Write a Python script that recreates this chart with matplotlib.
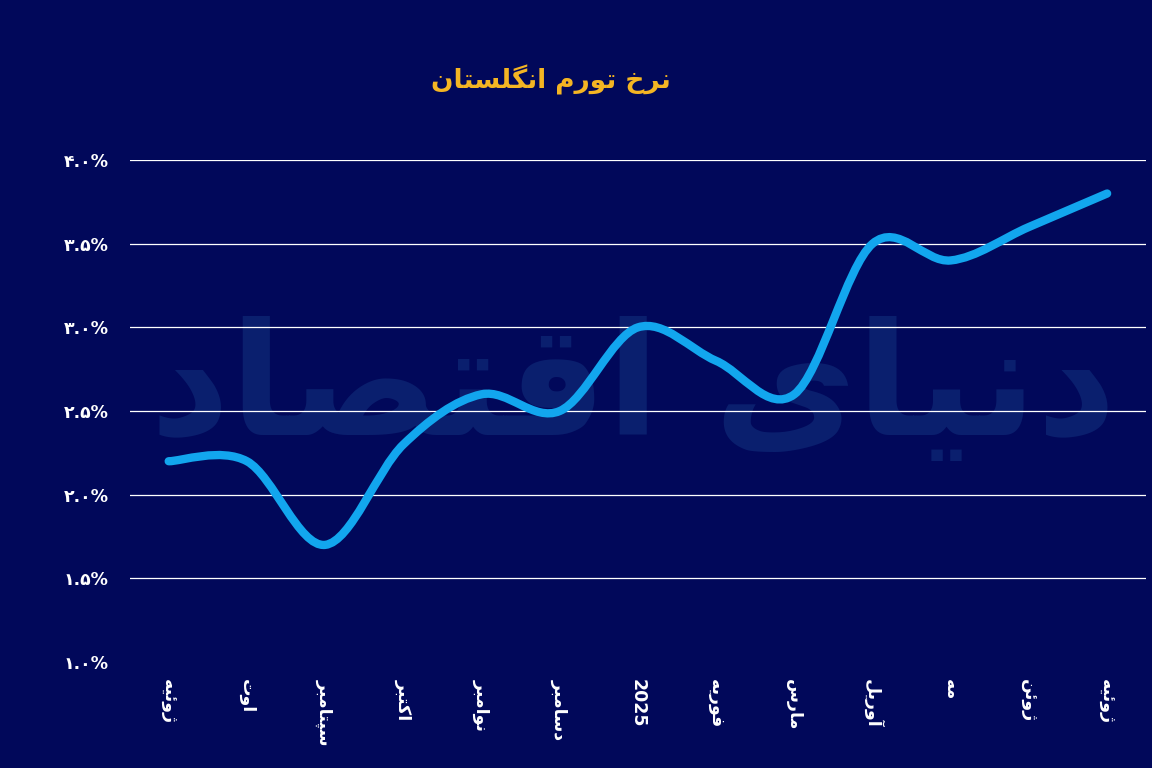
import matplotlib
matplotlib.use("Agg")
import matplotlib.pyplot as plt
from matplotlib.path import Path
from matplotlib.patches import PathPatch
from matplotlib.ticker import FixedLocator

# ---------------- data ----------------
months = ["ژوئیه", "اوت", "سپتامبر", "اکتبر", "نوامبر", "دسامبر", "2025",
          "فوریه", "مارس", "آوریل", "مه", "ژوئن", "ژوئیه"]
inflation = [2.2, 2.2, 1.7, 2.3, 2.6, 2.5, 3.0, 2.8, 2.6, 3.5, 3.4, 3.6, 3.8]
y_ticks = [1.0, 1.5, 2.0, 2.5, 3.0, 3.5, 4.0]
title = "نرخ تورم انگلستان"
watermark = "دنیای اقتصاد"

# ---------------- Persian shaping (presentation forms) ----------------
FORMS = {  # isolated, final, initial, medial
    "ا": ("\uFE8D", "\uFE8E", None, None),
    "آ": ("\uFE81", "\uFE82", None, None),
    "ئ": ("\uFE89", "\uFE8A", "\uFE8B", "\uFE8C"),
    "ب": ("\uFE8F", "\uFE90", "\uFE91", "\uFE92"),
    "پ": ("\uFB56", "\uFB57", "\uFB58", "\uFB59"),
    "ت": ("\uFE95", "\uFE96", "\uFE97", "\uFE98"),
    "ج": ("\uFE9D", "\uFE9E", "\uFE9F", "\uFEA0"),
    "خ": ("\uFEA5", "\uFEA6", "\uFEA7", "\uFEA8"),
    "د": ("\uFEA9", "\uFEAA", None, None),
    "ر": ("\uFEAD", "\uFEAE", None, None),
    "ز": ("\uFEAF", "\uFEB0", None, None),
    "ژ": ("\uFB8A", "\uFB8B", None, None),
    "س": ("\uFEB1", "\uFEB2", "\uFEB3", "\uFEB4"),
    "ص": ("\uFEB9", "\uFEBA", "\uFEBB", "\uFEBC"),
    "ف": ("\uFED1", "\uFED2", "\uFED3", "\uFED4"),
    "ق": ("\uFED5", "\uFED6", "\uFED7", "\uFED8"),
    "ک": ("\uFB8E", "\uFB8F", "\uFB90", "\uFB91"),
    "گ": ("\uFB92", "\uFB93", "\uFB94", "\uFB95"),
    "ل": ("\uFEDD", "\uFEDE", "\uFEDF", "\uFEE0"),
    "م": ("\uFEE1", "\uFEE2", "\uFEE3", "\uFEE4"),
    "ن": ("\uFEE5", "\uFEE6", "\uFEE7", "\uFEE8"),
    "ه": ("\uFEE9", "\uFEEA", "\uFEEB", "\uFEEC"),
    "و": ("\uFEED", "\uFEEE", None, None),
    "ی": ("\uFBFC", "\uFBFD", "\uFBFE", "\uFBFF"),
}


def shape(text):
    if not any(c in FORMS for c in text):
        return text
    out = []
    n = len(text)
    for i, c in enumerate(text):
        if c not in FORMS:
            out.append(c)
            continue
        iso, fin, ini, med = FORMS[c]
        prev = text[i - 1] if i > 0 else None
        nxt = text[i + 1] if i + 1 < n else None
        join_prev = prev in FORMS and FORMS[prev][2] is not None
        join_next = nxt in FORMS and ini is not None
        if join_prev and join_next:
            out.append(med)
        elif join_prev:
            out.append(fin)
        elif join_next:
            out.append(ini)
        else:
            out.append(iso)
    return "".join(reversed(out))


def fa_digits(s):
    return s.translate(str.maketrans("0123456789", "۰۱۲۳۴۵۶۷۸۹"))


# ---------------- style ----------------
BG = "#01085A"
LINE = "#12A6EE"
GOLD = "#F4B523"
WM = "#0A1F6E"

fig = plt.figure(figsize=(11.52, 7.68), dpi=100, facecolor=BG)
ax = fig.add_axes([0.1125, 0.138, 0.8825, 0.6536], facecolor=BG)

# watermark (behind grid and line)
ax.text(0.55, 0.49, shape(watermark), fontsize=112, color=WM, ha="center",
        va="center", family="DejaVu Sans", fontweight="bold", zorder=0,
        transform=fig.transFigure, clip_on=False)

x = list(range(len(months)))

# smooth curve (Catmull-Rom through the data points)
t = 1.0 / 6.0
verts = [(x[0], inflation[0])]
codes = [Path.MOVETO]
for i in range(len(x) - 1):
    p0 = (x[max(i - 1, 0)], inflation[max(i - 1, 0)])
    p1 = (x[i], inflation[i])
    p2 = (x[i + 1], inflation[i + 1])
    p3 = (x[min(i + 2, len(x) - 1)], inflation[min(i + 2, len(x) - 1)])
    c1 = (p1[0] + (p2[0] - p0[0]) * t, p1[1] + (p2[1] - p0[1]) * t)
    c2 = (p2[0] - (p3[0] - p1[0]) * t, p2[1] - (p3[1] - p1[1]) * t)
    verts += [c1, c2, p2]
    codes += [Path.CURVE4] * 3
ax.add_patch(PathPatch(Path(verts, codes), facecolor="none", edgecolor=LINE,
                       lw=6, capstyle="round", joinstyle="round", zorder=3))

ax.set_xlim(-0.5, 12.5)
ax.set_ylim(1.0, 4.0)

for yv in y_ticks:
    if yv > 1.0:
        ax.axhline(yv, color="white", lw=0.9, zorder=2)

for s in ax.spines.values():
    s.set_visible(False)

ax.yaxis.set_major_locator(FixedLocator(y_ticks))
ax.set_yticklabels([fa_digits(f"{v:.1f}") + "%" for v in y_ticks],
                   color="white", fontsize=12.5, fontweight="bold")
ax.set_xticks(x)
ax.set_xticklabels([shape(m) for m in months], rotation=270, color="white",
                   fontsize=12.5, fontweight="bold", va="top", ha="center")
ax.tick_params(axis="y", length=0, pad=15)
ax.tick_params(axis="x", length=0, pad=12)

fig.text(0.478, 0.896, shape(title), fontsize=19, fontweight="bold",
         color=GOLD, ha="center", va="center")

fig.savefig("out.png", dpi=100, facecolor=BG)
